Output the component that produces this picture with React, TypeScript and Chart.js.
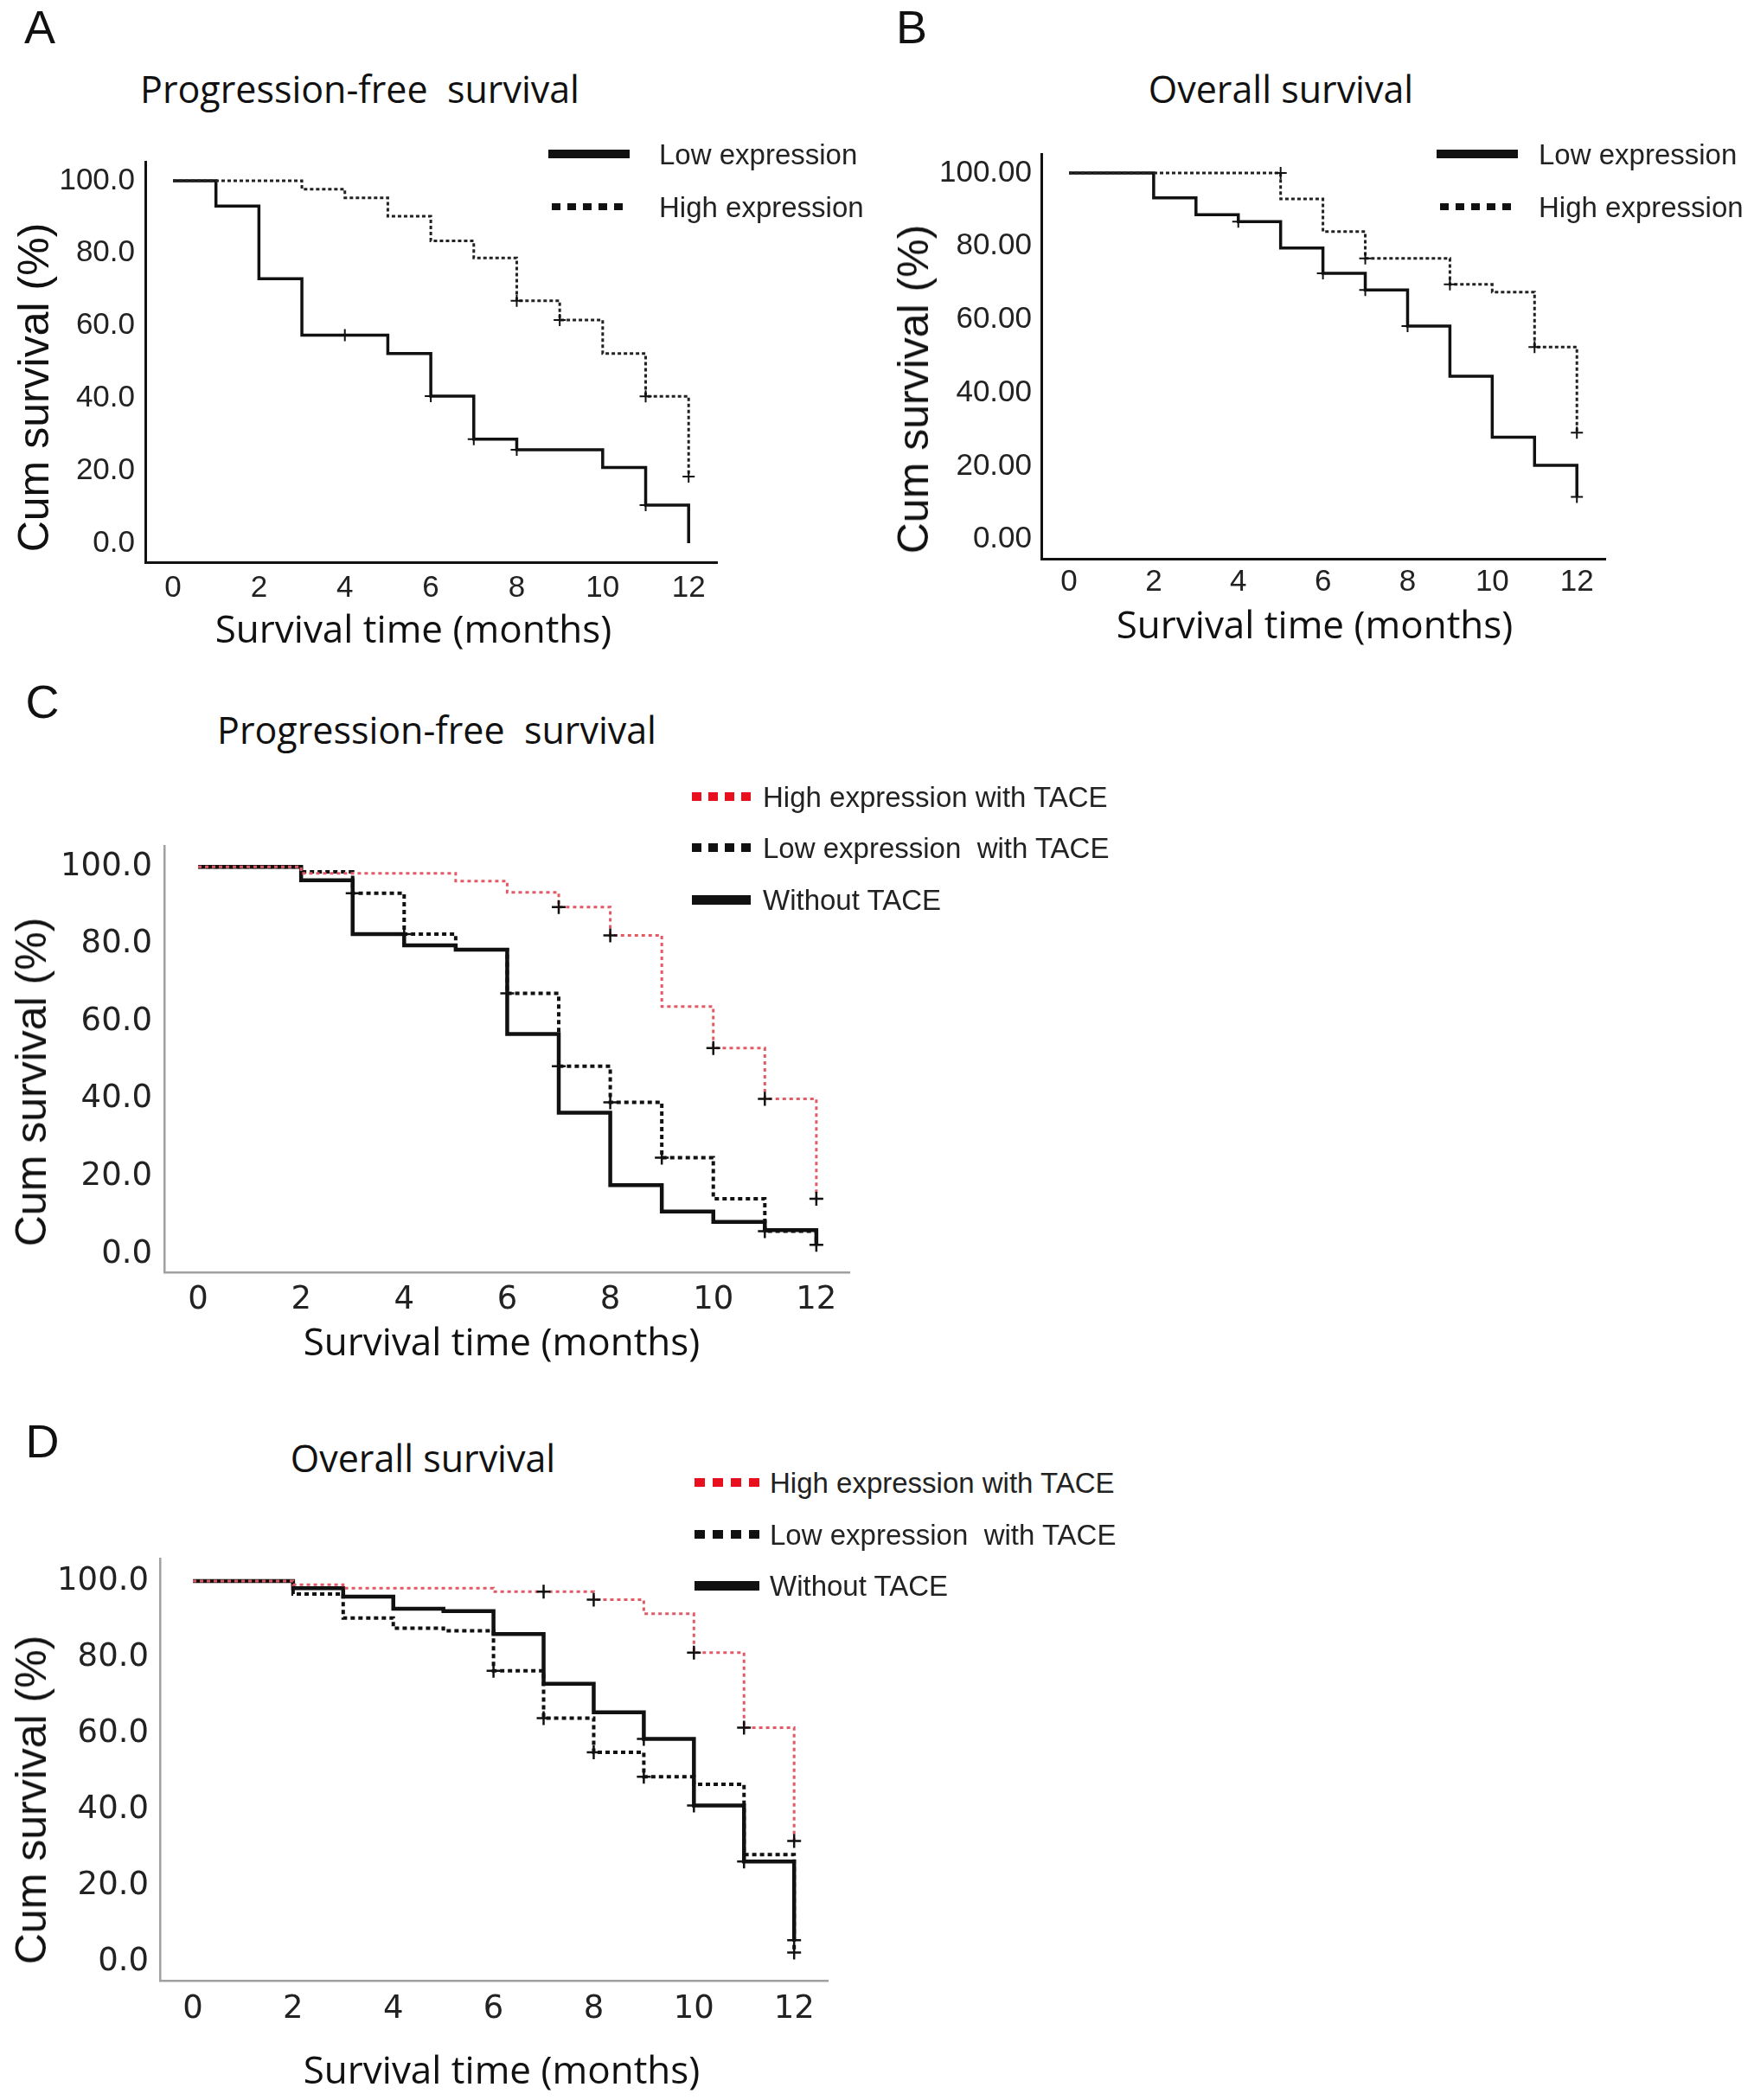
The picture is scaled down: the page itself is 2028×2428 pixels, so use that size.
import { useEffect, useRef } from "react"
import Chart from "chart.js/auto"

// shared ticks
const xTicks = [0, 2, 4, 6, 8, 10, 12]
const yTicks = [0, 20, 40, 60, 80, 100]

// A: progression-free survival by expression
const pfsLowTime = [0, 1, 2, 3, 5, 6, 7, 8, 10, 11, 12]
const pfsLowSurv = [100, 93, 73, 57.4, 52.3, 40.6, 28.7, 25.8, 20.9, 10.5, 0]
const pfsLowCensTime = [4, 6, 7, 8, 11]
const pfsLowCensSurv = [57.4, 40.6, 28.7, 25.8, 10.5]
const pfsHighTime = [0, 3, 4, 5, 6, 7, 8, 9, 10, 11, 12]
const pfsHighSurv = [100, 97.7, 95.3, 90.2, 83.4, 78.7, 66.9, 61.6, 52.3, 40.5, 18.4]
const pfsHighCensTime = [8, 9, 11, 12]
const pfsHighCensSurv = [66.9, 61.6, 40.5, 18.4]

// B: overall survival by expression
const osLowTime = [0, 2, 3, 4, 5, 6, 7, 8, 9, 10, 11, 12]
const osLowSurv = [100, 93.2, 88.6, 86.7, 79.5, 72.6, 68.1, 58.2, 44.5, 27.9, 20.2, 11.6]
const osLowCensTime = [4, 6, 7, 8, 12]
const osLowCensSurv = [86.7, 72.6, 68.1, 58.2, 11.6]
const osHighTime = [0, 5, 6, 7, 9, 10, 11, 12]
const osHighSurv = [100, 92.9, 84, 76.7, 69.6, 67.5, 52.5, 29.1]
const osHighCensTime = [5, 7, 9, 11, 12]
const osHighCensSurv = [100, 76.7, 69.6, 52.5, 29.1]

// C: progression-free survival with / without TACE
const cHighTime = [0, 2, 5, 6, 7, 8, 9, 10, 11, 12]
const cHighSurv = [100, 98.3, 96.3, 93.4, 89.6, 82.3, 63.9, 53.2, 40.1, 14.3]
const cHighCensTime = [7, 8, 10, 11, 12]
const cHighCensSurv = [89.6, 82.3, 53.2, 40.1, 14.3]
const cLowTime = [0, 2, 3, 4, 5, 6, 7, 8, 9, 10, 11, 12]
const cLowSurv = [100, 98.7, 93.2, 82.6, 78.6, 67.3, 48.5, 39.2, 24.9, 14.3, 5.9, 2.4]
const cLowCensTime = [3, 4, 6, 7, 8, 9, 11, 12]
const cLowCensSurv = [93.2, 82.6, 67.3, 48.5, 39.2, 24.9, 5.9, 2.4]
const cNoTime = [0, 2, 3, 4, 5, 6, 7, 8, 9, 10, 11, 12]
const cNoSurv = [100, 96.5, 82.6, 79.7, 78.6, 56.8, 36.5, 17.8, 11, 8.3, 6.2, 2.4]

// D: overall survival with / without TACE
const dHighTime = [0, 2, 3, 6, 8, 9, 10, 11, 12]
const dHighSurv = [100, 99, 98.1, 97.2, 95.1, 91.4, 81.2, 61.5, 31.7]
const dHighCensTime = [7, 8, 10, 11, 12]
const dHighCensSurv = [97.2, 95.1, 81.2, 61.5, 31.7]
const dLowTime = [0, 2, 3, 4, 5, 6, 7, 8, 9, 10, 11, 12]
const dLowSurv = [100, 96.6, 90.3, 87.6, 86.9, 76.4, 64, 55, 48.6, 46.6, 28.1, 2.4]
const dLowCensTime = [6, 7, 8, 9, 12]
const dLowCensSurv = [76.4, 64, 55, 48.6, 2.4]
const dNoTime = [0, 2, 3, 4, 5, 6, 7, 8, 9, 10, 11, 12]
const dNoSurv = [100, 98.1, 95.9, 92.7, 92.1, 86.1, 73, 65.5, 58.5, 41, 26.3, 5.6]
const dNoCensTime = [9, 10, 11, 12]
const dNoCensSurv = [58.5, 41, 26.3, 5.6]

const RED = "#e25a66"
const YW = 160
const XH = 80
const PT = 45
const PR = 45

const pts = (t: number[], s: number[]) => t.map((x, i) => ({ x, y: s[i] }))

function curve(t: number[], s: number[], color: string, width: number, dash: number[]) {
  return {
    data: pts(t, s),
    borderColor: color,
    borderWidth: width,
    borderDash: dash,
    stepped: "before",
    pointRadius: 0,
    fill: false,
    clip: false,
  }
}

function censor(t: number[], s: number[], r: number, w: number) {
  return {
    data: pts(t, s),
    showLine: false,
    pointStyle: "cross",
    pointRadius: r,
    pointBorderWidth: w,
    pointBorderColor: "#111",
    borderColor: "#111",
    clip: false,
  }
}

interface PanelProps {
  area: { l: number; r: number; t: number; b: number }
  x: [number, number]
  y: [number, number]
  decimals: number
  font: { family: string; size: number }
  tickColor: string
  axisColor: string
  axisWidth: number
  yPad: number
  xPad: number
  datasets: any[]
}

function KMPanel({ area, x, y, decimals, font, tickColor, axisColor, axisWidth, yPad, xPad, datasets }: PanelProps) {
  const ref = useRef<HTMLCanvasElement>(null)
  const w = area.r - area.l + YW + PR
  const h = area.b - area.t + PT + XH

  useEffect(() => {
    if (!ref.current) return
    const chart = new Chart(ref.current, {
      type: "line",
      data: { datasets },
      options: {
        animation: false,
        responsive: false,
        devicePixelRatio: 1,
        layout: { padding: { top: PT, right: PR, left: 0, bottom: 0 } },
        plugins: { legend: { display: false }, tooltip: { enabled: false } },
        scales: {
          x: {
            type: "linear",
            min: x[0],
            max: x[1],
            afterBuildTicks: (s: any) => {
              s.ticks = xTicks.map((v) => ({ value: v }))
            },
            afterFit: (s: any) => {
              s.height = XH
            },
            grid: { display: false, drawTicks: false },
            border: { display: true, color: axisColor, width: axisWidth },
            ticks: { font, color: tickColor, padding: xPad, maxRotation: 0 },
          },
          y: {
            type: "linear",
            min: y[0],
            max: y[1],
            afterBuildTicks: (s: any) => {
              s.ticks = yTicks.map((v) => ({ value: v }))
            },
            afterFit: (s: any) => {
              s.width = YW
            },
            grid: { display: false, drawTicks: false },
            border: { display: true, color: axisColor, width: axisWidth },
            ticks: {
              font,
              color: tickColor,
              padding: yPad,
              callback: (v: any) => Number(v).toFixed(decimals),
            },
          },
        },
      } as any,
    })
    return () => chart.destroy()
  }, [])

  return (
    <canvas
      ref={ref}
      width={w}
      height={h}
      style={{ position: "absolute", left: area.l - YW, top: area.t - PT, width: w, height: h }}
    />
  )
}

function Text({ x, y, children, family, size, rotate = 0, color = "#111", align = "center" }: any) {
  const tx = align === "center" ? "-50%" : "0"
  return (
    <div
      style={{
        position: "absolute",
        left: x,
        top: y,
        fontFamily: family,
        fontSize: size,
        color,
        whiteSpace: "pre",
        lineHeight: 1,
        transform: `translate(${tx}, -50%) rotate(${rotate}deg)`,
        transformOrigin: align === "center" ? "center" : "left center",
      }}
    >
      {children}
    </div>
  )
}

function Swatch({ x1, x2, y, color, kind, thick, dot = 10, gap = 8 }: any) {
  const bg =
    kind === "solid"
      ? color
      : `repeating-linear-gradient(90deg, ${color} 0 ${dot}px, transparent ${dot}px ${dot + gap}px)`
  return (
    <div
      style={{
        position: "absolute",
        left: x1,
        top: y - thick / 2,
        width: x2 - x1,
        height: thick,
        background: bg,
      }}
    />
  )
}

const SANS = "'Liberation Sans', Arial, sans-serif"
const OPEN = "'Open Sans', sans-serif"
const DEJA = "'DejaVu Sans', sans-serif"

export default function App() {
  const abFont = { family: SANS, size: 35 }
  const cdFont = { family: DEJA, size: 37 }

  const dsA = [
    censor(pfsLowCensTime, pfsLowCensSurv, 7, 2),
    censor(pfsHighCensTime, pfsHighCensSurv, 7, 2),
    curve(pfsHighTime, pfsHighSurv, "#222", 3, [4, 3]),
    curve(pfsLowTime, pfsLowSurv, "#111", 3.5, []),
  ]
  const dsB = [
    censor(osLowCensTime, osLowCensSurv, 7, 2),
    censor(osHighCensTime, osHighCensSurv, 7, 2),
    curve(osHighTime, osHighSurv, "#222", 3, [4, 3]),
    curve(osLowTime, osLowSurv, "#111", 3.5, []),
  ]
  const dsC = [
    censor(cHighCensTime, cHighCensSurv, 8, 2.5),
    censor(cLowCensTime, cLowCensSurv, 8, 2.5),
    curve(cHighTime, cHighSurv, RED, 3, [4, 4]),
    curve(cLowTime, cLowSurv, "#111", 4, [5, 4]),
    curve(cNoTime, cNoSurv, "#111", 4.5, []),
  ]
  const dsD = [
    censor(dHighCensTime, dHighCensSurv, 8, 2.5),
    censor(dLowCensTime, dLowCensSurv, 8, 2.5),
    censor(dNoCensTime, dNoCensSurv, 8, 2.5),
    curve(dHighTime, dHighSurv, RED, 3, [4, 4]),
    curve(dLowTime, dLowSurv, "#111", 4, [5, 4]),
    curve(dNoTime, dNoSurv, "#111", 4.5, []),
  ]

  return (
    <div style={{ position: "absolute", left: 0, top: 0, width: 2028, height: 2428, background: "#fff", overflow: "hidden" }}>
      {/* Panel A */}
      <Text x={46} y={31} family={SANS} size={54}>A</Text>
      <Text x={416} y={102} family={OPEN} size={43}>{"Progression-free  survival"}</Text>
      <KMPanel
        area={{ l: 168, r: 829, t: 187, b: 650 }}
        x={[-0.644, 12.66]}
        y={[-5.25, 105.25]}
        decimals={1}
        font={abFont}
        tickColor="#222"
        axisColor="#111"
        axisWidth={3}
        yPad={12}
        xPad={9}
        datasets={dsA}
      />
      <Text x={478} y={726} family={OPEN} size={44}>Survival time (months)</Text>
      <Text x={39} y={448} family={SANS} size={50} rotate={-90}>Cum survival (%)</Text>
      <Swatch x1={634} x2={728} y={178} color="#111" kind="solid" thick={10} />
      <Text x={762} y={178} family={SANS} size={33} align="left" color="#222">Low expression</Text>
      <Swatch x1={638} x2={728} y={239} color="#111" kind="dot" thick={8} dot={10} gap={8} />
      <Text x={762} y={239} family={SANS} size={33} align="left" color="#222">High expression</Text>

      {/* Panel B */}
      <Text x={1054} y={31} family={SANS} size={54}>B</Text>
      <Text x={1481} y={102} family={OPEN} size={43}>Overall survival</Text>
      <KMPanel
        area={{ l: 1204, r: 1856, t: 178, b: 646 }}
        x={[-0.654, 12.67]}
        y={[-5.3, 105.2]}
        decimals={2}
        font={abFont}
        tickColor="#222"
        axisColor="#111"
        axisWidth={3}
        yPad={11}
        xPad={6}
        datasets={dsB}
      />
      <Text x={1520} y={721} family={OPEN} size={44}>Survival time (months)</Text>
      <Text x={1056} y={450} family={SANS} size={50} rotate={-90}>Cum survival (%)</Text>
      <Swatch x1={1661} x2={1755} y={178} color="#111" kind="solid" thick={10} />
      <Text x={1779} y={178} family={SANS} size={33} align="left" color="#222">Low expression</Text>
      <Swatch x1={1665} x2={1755} y={239} color="#111" kind="dot" thick={8} dot={10} gap={8} />
      <Text x={1779} y={239} family={SANS} size={33} align="left" color="#222">High expression</Text>

      {/* Panel C */}
      <Text x={49} y={811} family={SANS} size={54}>C</Text>
      <Text x={505} y={843} family={OPEN} size={43}>{"Progression-free  survival"}</Text>
      <KMPanel
        area={{ l: 190, r: 982, t: 978, b: 1471 }}
        x={[-0.655, 12.64]}
        y={[-4.7, 105.4]}
        decimals={1}
        font={cdFont}
        tickColor="#222"
        axisColor="#a0a0a0"
        axisWidth={2.5}
        yPad={14}
        xPad={10}
        datasets={dsC}
      />
      <Text x={580} y={1550} family={OPEN} size={44}>Survival time (months)</Text>
      <Text x={36} y={1251} family={SANS} size={50} rotate={-90}>Cum survival (%)</Text>
      <Swatch x1={800} x2={868} y={921} color="#e8101e" kind="dot" thick={10} dot={11} gap={8} />
      <Text x={882} y={921} family={SANS} size={33} align="left" color="#222">High expression with TACE</Text>
      <Swatch x1={800} x2={868} y={980} color="#111" kind="dot" thick={10} dot={11} gap={8} />
      <Text x={882} y={980} family={SANS} size={33} align="left" color="#222">{"Low expression  with TACE"}</Text>
      <Swatch x1={800} x2={868} y={1040} color="#111" kind="solid" thick={11} />
      <Text x={882} y={1040} family={SANS} size={33} align="left" color="#222">Without TACE</Text>

      {/* Panel D */}
      <Text x={49} y={1666} family={SANS} size={54}>D</Text>
      <Text x={489} y={1685} family={OPEN} size={43}>Overall survival</Text>
      <KMPanel
        area={{ l: 185, r: 957, t: 1802, b: 2290 }}
        x={[-0.656, 12.67]}
        y={[-5.0, 105.9]}
        decimals={1}
        font={cdFont}
        tickColor="#222"
        axisColor="#a0a0a0"
        axisWidth={2.5}
        yPad={13}
        xPad={11}
        datasets={dsD}
      />
      <Text x={580} y={2392} family={OPEN} size={44}>Survival time (months)</Text>
      <Text x={36} y={2081} family={SANS} size={50} rotate={-90}>Cum survival (%)</Text>
      <Swatch x1={803} x2={878} y={1714} color="#e8101e" kind="dot" thick={10} dot={12} gap={9} />
      <Text x={890} y={1714} family={SANS} size={33} align="left" color="#222">High expression with TACE</Text>
      <Swatch x1={803} x2={878} y={1774} color="#111" kind="dot" thick={10} dot={12} gap={9} />
      <Text x={890} y={1774} family={SANS} size={33} align="left" color="#222">{"Low expression  with TACE"}</Text>
      <Swatch x1={803} x2={878} y={1833} color="#111" kind="solid" thick={11} />
      <Text x={890} y={1833} family={SANS} size={33} align="left" color="#222">Without TACE</Text>
    </div>
  )
}
